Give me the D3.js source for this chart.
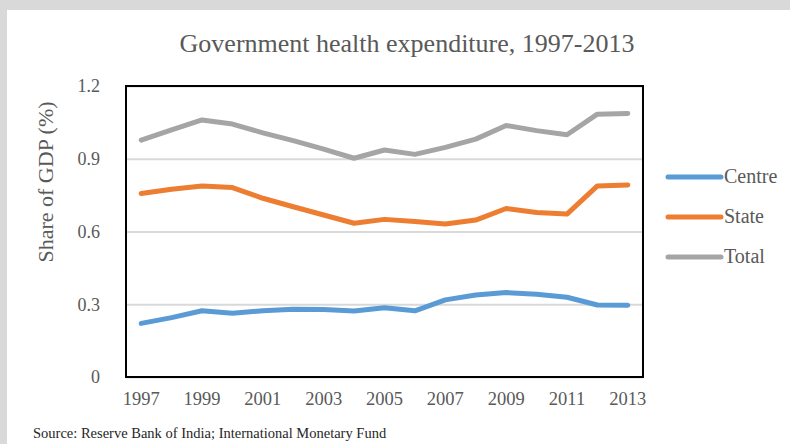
<!DOCTYPE html>
<html>
<head>
<meta charset="utf-8">
<script src="https://cdn.jsdelivr.net/npm/d3@7"></script>
<style>
  html, body { margin: 0; padding: 0; background: #d9d9d9; }
  svg { display: block; }
  text { font-family: "Liberation Serif", "DejaVu Serif", serif; }
</style>
</head>
<body>
<svg id="chart" width="790" height="444"></svg>
<script>
const years = [1997, 1998, 1999, 2000, 2001, 2002, 2003, 2004, 2005,
               2006, 2007, 2008, 2009, 2010, 2011, 2012, 2013];
const centre = [0.221, 0.245, 0.273, 0.263, 0.273, 0.279, 0.278, 0.272, 0.286,
                0.273, 0.318, 0.338, 0.348, 0.341, 0.329, 0.297, 0.296];
const state  = [0.757, 0.774, 0.788, 0.781, 0.737, 0.702, 0.668, 0.634, 0.650,
                0.641, 0.631, 0.647, 0.695, 0.678, 0.672, 0.788, 0.792];
const total  = [0.977, 1.019, 1.060, 1.043, 1.007, 0.975, 0.940, 0.902, 0.936,
                0.918, 0.947, 0.981, 1.037, 1.016, 0.999, 1.084, 1.087];
const seriesNames = ["Centre", "State", "Total"];
const seriesColors = ["#5b9bd5", "#ed7d31", "#a5a5a5"];
const yTicks = [0, 0.3, 0.6, 0.9, 1.2];
const xTickYears = [1997, 1999, 2001, 2003, 2005, 2007, 2009, 2011, 2013];

const svg = d3.select("#chart");

// white card on the grey page
svg.append("rect").attr("x", 7).attr("y", 10).attr("width", 783).attr("height", 434)
  .attr("fill", "#ffffff");

const plot = { left: 126, right: 643, top: 86, bottom: 377 };

const x = d3.scaleBand().domain(years).range([plot.left, plot.right]);
const xc = d => x(d) + x.bandwidth() / 2;
const y = d3.scaleLinear().domain([0, 1.2]).range([plot.bottom, plot.top]);

// title
svg.append("text").attr("x", 407).attr("y", 52).attr("text-anchor", "middle")
  .attr("font-size", 26).attr("fill", "#595959")
  .text("Government health expenditure, 1997-2013");

// gridlines and value labels
const yAxis = d3.axisLeft(y).tickValues(yTicks).tickSize(-(plot.right - plot.left))
  .tickFormat(d => d === 0 ? "0" : d3.format(".1f")(d)).tickPadding(26);
const gy = svg.append("g").attr("transform", `translate(${plot.left},0)`).call(yAxis);
gy.select(".domain").remove();
gy.selectAll(".tick line").attr("stroke", "#d9d9d9").attr("stroke-width", 2);
gy.selectAll(".tick text").attr("font-size", 18).attr("fill", "#595959")
  .attr("font-family", "Liberation Serif, serif");

// year labels
const xAxis = d3.axisBottom(x).tickValues(xTickYears).tickSize(0).tickPadding(15);
const gx = svg.append("g").attr("transform", `translate(0,${plot.bottom})`).call(xAxis);
gx.select(".domain").remove();
gx.selectAll(".tick text").attr("font-size", 18.5).attr("fill", "#595959")
  .attr("font-family", "Liberation Serif, serif");

// y axis title
svg.append("text").attr("transform", "translate(53,182) rotate(-90)")
  .attr("text-anchor", "middle").attr("font-size", 22).attr("fill", "#595959")
  .text("Share of GDP (%)");

// lines
const series = [centre, state, total];
const line = d3.line().x((d, i) => xc(years[i])).y(d => y(d));
series.forEach((vals, k) => {
  svg.append("path").datum(vals).attr("d", line)
    .attr("fill", "none").attr("stroke", seriesColors[k]).attr("stroke-width", 5)
    .attr("stroke-linecap", "round").attr("stroke-linejoin", "round");
});

// plot frame
svg.append("rect").attr("x", plot.left).attr("y", plot.top)
  .attr("width", plot.right - plot.left).attr("height", plot.bottom - plot.top)
  .attr("fill", "none").attr("stroke", "#000").attr("stroke-width", 2);

// legend
const legendY = d3.scalePoint().domain(seriesNames).range([177, 257]);
seriesNames.forEach((name, k) => {
  const ly = legendY(name);
  svg.append("line").attr("x1", 668).attr("x2", 721).attr("y1", ly).attr("y2", ly)
    .attr("stroke", seriesColors[k]).attr("stroke-width", 5).attr("stroke-linecap", "round");
  svg.append("text").attr("x", 724).attr("y", ly + 6).attr("font-size", 20)
    .attr("fill", "#595959").text(name);
});

// source note
svg.append("text").attr("x", 33).attr("y", 438).attr("font-size", 14.5)
  .attr("fill", "#262626").text("Source: Reserve Bank of India; International Monetary Fund");
</script>
</body>
</html>
